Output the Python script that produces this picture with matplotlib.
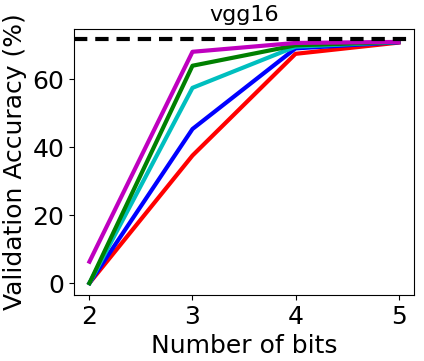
import matplotlib
matplotlib.use("Agg")
import matplotlib.pyplot as plt

bits = [2, 3, 4, 5]
red = [0.0, 37.5, 67.4, 70.7]
blue = [0.0, 45.3, 69.0, 70.8]
cyan = [0.0, 57.4, 69.5, 70.9]
green = [0.0, 63.9, 69.9, 70.9]
magenta = [6.3, 68.0, 70.6, 70.9]
baseline = 71.7

fig, ax = plt.subplots(figsize=(4.24, 3.61), dpi=100)
for vals, c in [(red, 'r'), (blue, 'b'), (cyan, 'c'), (green, 'g'), (magenta, 'm')]:
    ax.plot(bits, vals, color=c, linewidth=3)
ax.axhline(baseline, color='k', linestyle=(0, (3.2, 1.9)), linewidth=3)
ax.set_xlim(1.85, 5.15)
ax.set_ylim(-3.5, 74.7)
ax.set_xticks([2, 3, 4, 5])
ax.set_yticks([0, 20, 40, 60])
ax.tick_params(labelsize=18)
ax.set_title('vgg16', fontsize=16)
ax.set_xlabel('Number of bits', fontsize=18)
ax.set_ylabel('Validation Accuracy (%)', fontsize=18)
fig.subplots_adjust(left=74/424, right=414/424, top=1-29/361, bottom=1-295/361)
fig.savefig('out.png', dpi=100)
